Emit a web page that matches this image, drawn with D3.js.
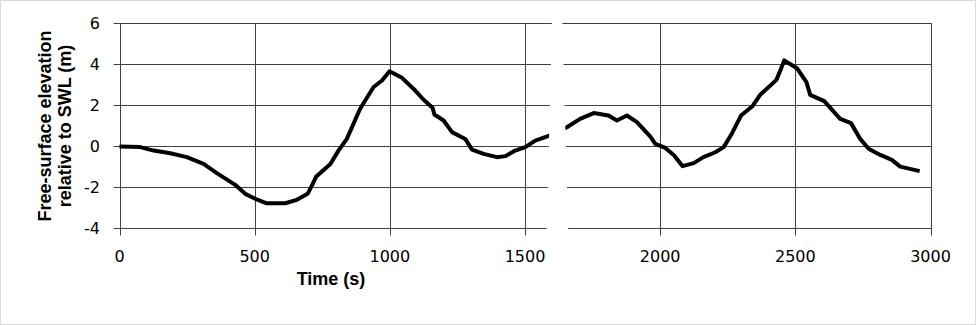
<!DOCTYPE html>
<html>
<head>
<meta charset="utf-8">
<script src="https://cdn.jsdelivr.net/npm/d3@7"></script>
<style>
  html, body { margin: 0; padding: 0; background: #fff; }
  svg { display: block; }
</style>
</head>
<body>
<svg id="chart" width="976" height="325"></svg>
<script>
// ---- data ----
const time = [0, 77, 126, 188, 249, 311, 360, 428, 465, 502, 545, 613, 656, 696, 712, 728, 780, 810, 841, 890, 940, 971, 999, 1045, 1094, 1125, 1158, 1165, 1199, 1230, 1279, 1304, 1347, 1396, 1427, 1464, 1501, 1538, 1593,
  1655, 1704, 1754, 1809, 1840, 1877, 1914, 1963, 1982, 2019, 2052, 2083, 2124, 2160, 2204, 2235, 2266, 2299, 2340, 2370, 2430, 2447, 2459, 2506, 2541, 2555, 2607, 2636, 2666, 2706, 2740, 2771, 2814, 2857, 2888, 2960];
const elevation = [0.0, -0.03, -0.2, -0.33, -0.52, -0.85, -1.3, -1.87, -2.31, -2.55, -2.77, -2.77, -2.6, -2.31, -1.9, -1.46, -0.85, -0.2, 0.37, 1.84, 2.9, 3.22, 3.67, 3.35, 2.73, 2.28, 1.89, 1.56, 1.27, 0.7, 0.37, -0.15, -0.36, -0.52, -0.47, -0.2, -0.03, 0.29, 0.54,
  0.94, 1.35, 1.63, 1.51, 1.27, 1.51, 1.19, 0.49, 0.13, -0.07, -0.44, -0.96, -0.81, -0.52, -0.28, -0.03, 0.65, 1.51, 1.95, 2.52, 3.25, 3.79, 4.2, 3.82, 3.14, 2.52, 2.21, 1.79, 1.35, 1.14, 0.37, -0.11, -0.41, -0.65, -0.98, -1.2];
const xTicks = [0, 500, 1000, 1500, 2000, 2500, 3000];
const yTicks = [-4, -2, 0, 2, 4, 6];
const xTitle = "Time (s)";
const yTitleLines = ["Free-surface elevation", "relative to SWL (m)"];
// axis break (data coordinates): [time at top, time at bottom] for left and right edges
const breakLeft = [1600, 1580];
const breakRight = [1638, 1660];

// ---- layout ----
const svg = d3.select("#chart");
const x = d3.scaleLinear().domain([0, 3000]).range([119.5, 930.5]);
const y = d3.scaleLinear().domain([-4, 6]).range([228.5, 23.5]);
const px = v => Math.round(x(v)) + 0.5;
const py = v => Math.round(y(v) - 0.5) + 0.5;
const gridColor = "#404040";

// outer border
svg.append("rect").attr("x", 0.5).attr("y", 0.5).attr("width", 975).attr("height", 324)
  .attr("fill", "#fff").attr("stroke", "#d9d9d9");

// horizontal gridlines (with tick extension to the left)
svg.append("g").selectAll("line").data(yTicks).join("line")
  .attr("x1", px(0) - 7).attr("x2", px(3000))
  .attr("y1", d => py(d)).attr("y2", d => py(d))
  .attr("stroke", gridColor).attr("stroke-width", 1);

// vertical gridlines (with tick extension below)
svg.append("g").selectAll("line").data(xTicks).join("line")
  .attr("x1", d => px(d)).attr("x2", d => px(d))
  .attr("y1", py(6)).attr("y2", py(-4) + 7)
  .attr("stroke", gridColor).attr("stroke-width", 1);

// data line
const line = d3.line().x((d, i) => x(time[i])).y(d => y(d));
svg.append("path").datum(elevation)
  .attr("d", line)
  .attr("fill", "none").attr("stroke", "#000").attr("stroke-width", 4)
  .attr("stroke-linejoin", "round");

// axis break (white band)
const brk = [[breakLeft[0], 6.15], [breakRight[0], 6.15], [breakRight[1], -4.15], [breakLeft[1], -4.15]];
svg.append("polygon")
  .attr("points", brk.map(p => [x(p[0]), y(p[1])].join(",")).join(" "))
  .attr("fill", "#fff");

// tick labels
svg.append("g").selectAll("text").data(xTicks).join("text")
  .attr("x", d => x(d)).attr("y", 262)
  .attr("text-anchor", "middle")
  .attr("font-family", "DejaVu Sans").attr("font-size", 16).attr("fill", "#000")
  .text(d => d);

svg.append("g").selectAll("text").data(yTicks).join("text")
  .attr("x", 100).attr("y", d => y(d))
  .attr("dy", "0.36em")
  .attr("text-anchor", "end")
  .attr("font-family", "DejaVu Sans").attr("font-size", 16).attr("fill", "#000")
  .text(d => d);

// axis titles
svg.append("text")
  .attr("x", 331).attr("y", 285)
  .attr("text-anchor", "middle")
  .attr("font-family", "Liberation Sans").attr("font-weight", "bold").attr("font-size", 18)
  .text(xTitle);

const yt = svg.append("text")
  .attr("transform", "translate(0," + ((y(6) + y(-4)) / 2) + ") rotate(-90)")
  .attr("text-anchor", "middle")
  .attr("font-family", "Liberation Sans").attr("font-weight", "bold").attr("font-size", 18);
yt.selectAll("tspan").data(yTitleLines).join("tspan")
  .attr("x", 0).attr("y", (d, i) => 51 + i * 20)
  .text(d => d);
</script>
</body>
</html>
